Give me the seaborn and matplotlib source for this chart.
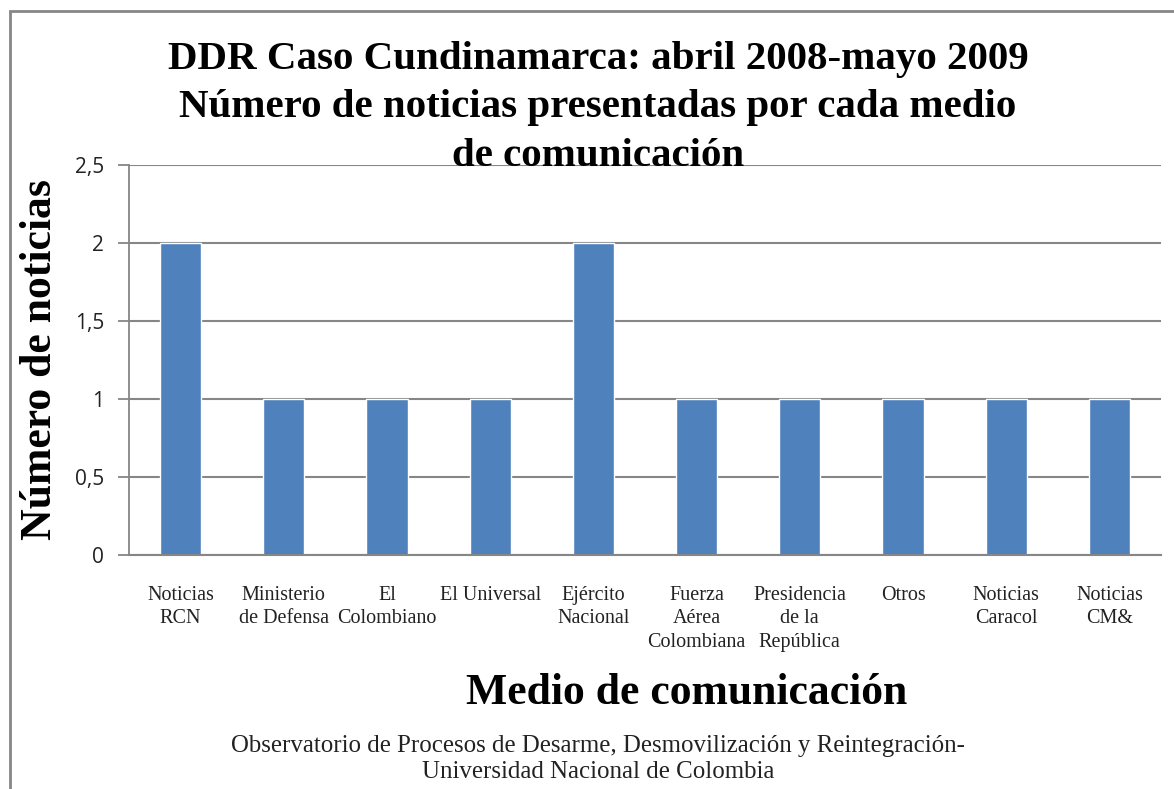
import matplotlib
matplotlib.use("Agg")
import matplotlib.pyplot as plt
import seaborn as sns
import pandas as pd
from matplotlib.patches import Rectangle
from matplotlib.ticker import FuncFormatter

categories = ["Noticias\nRCN", "Ministerio\nde Defensa", "El\nColombiano", "El Universal",
              "Ejército\nNacional", "Fuerza\nAérea\nColombiana", "Presidencia\nde la\nRepública",
              "Otros", "Noticias\nCaracol", "Noticias\nCM&"]
values = [2, 1, 1, 1, 2, 1, 1, 1, 1, 1]
yticks = [0, 0.5, 1, 1.5, 2, 2.5]

title_lines = ["DDR Caso Cundinamarca: abril 2008-mayo 2009",
               "Número de noticias presentadas por cada medio",
               "de comunicación"]
xlabel = "Medio de comunicación"
ylabel = "Número de noticias"
footer_lines = ["Observatorio de Procesos de Desarme, Desmovilización y Reintegración-",
                "Universidad Nacional de Colombia"]

sns.set_theme(style="white")
plt.rcParams['font.family'] = ['Liberation Serif', 'DejaVu Serif']

W, H = 1174, 789
fig = plt.figure(figsize=(W / 100, H / 100), dpi=100)
ax = fig.add_axes([129 / W, 1 - 555 / H, (1161 - 129) / W, (555 - 165) / H])

df = pd.DataFrame({"cat": categories, "val": values})
sns.barplot(data=df, x="cat", y="val", color="#4F81BD", saturation=1, width=0.4, ax=ax)

ax.set_ylim(0, 2.5)
ax.set_xlim(-0.5, len(categories) - 0.5)
ax.set_yticks(yticks)
ax.yaxis.set_major_formatter(FuncFormatter(lambda v, p: (f"{v:g}").replace(".", ",")))
for lab in ax.get_yticklabels():
    lab.set_fontfamily(['Open Sans', 'DejaVu Sans'])
    lab.set_fontsize(15)
    lab.set_color("#222222")
ax.tick_params(axis='y', length=8, width=1.3, color="#868686", pad=10, left=True)
ax.tick_params(axis='x', length=0, pad=22)
for lab in ax.get_xticklabels():
    lab.set_fontsize(14.5)
    lab.set_color("#222222")
    lab.set_linespacing(1.32)
    lab.set_va("top")

ax.grid(axis='y', color="#868686", linewidth=1.5)
ax.set_axisbelow(True)
for s in ["top", "right"]:
    ax.spines[s].set_visible(False)
ax.spines["left"].set_color("#868686")
ax.spines["left"].set_linewidth(1.3)
ax.spines["bottom"].set_color("#868686")
ax.spines["bottom"].set_linewidth(1.5)
ax.set_xlabel("")
ax.set_ylabel("")

for y, line in zip([59, 108, 156], title_lines):
    fig.text(598 / W, 1 - y / H, line, ha="center", va="center", fontsize=29.5,
             fontweight="bold", color="black")
fig.text(40 / W, 1 - 360 / H, ylabel, ha="center", va="center", rotation=90,
         fontsize=31.5, fontweight="bold", color="black")
fig.text(687 / W, 1 - 693 / H, xlabel, ha="center", va="center",
         fontsize=31.5, fontweight="bold", color="black")
for y, line in zip([746, 772], footer_lines):
    fig.text(598 / W, 1 - y / H, line, ha="center", va="center",
             fontsize=17.9, color="#222222")

fig.patches.append(Rectangle((9.5 / W, -0.1), 1.2, 1 - 11 / H + 0.1, transform=fig.transFigure,
                             fill=False, edgecolor="#868686", linewidth=2, zorder=0))

fig.savefig("out.png", dpi=100)
